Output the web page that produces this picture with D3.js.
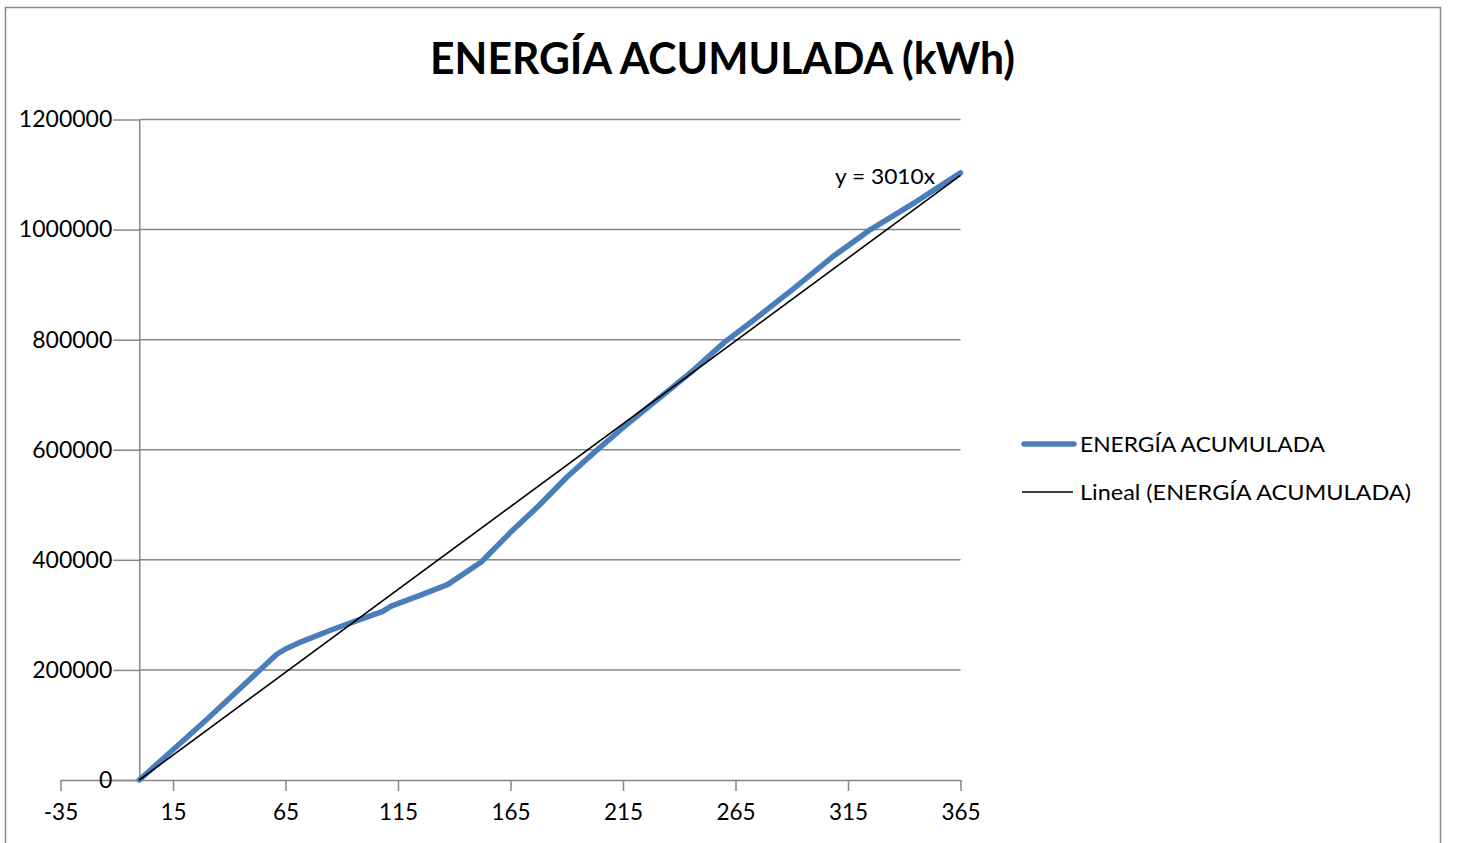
<!DOCTYPE html>
<html>
<head>
<meta charset="utf-8">
<script src="https://cdn.jsdelivr.net/npm/d3@7"></script>
<style>
  html, body { margin: 0; padding: 0; background: #fff; }
  svg { display: block; }
  text { font-family: Lato, "Open Sans", sans-serif; fill: #000; }
</style>
</head>
<body>
<svg id="chart" width="1459" height="843"></svg>
<script>
// ---- data ----
const days = [0, 15, 30, 45, 61, 65, 72, 85, 97, 108, 112, 125, 137, 152, 165, 177, 190, 203, 215, 230, 245, 260, 272, 290, 308, 325, 345, 365];
const energy = [0, 55000, 110000, 167000, 228000, 238000, 251000, 272000, 290000, 306000, 316000, 336000, 355000, 396000, 450000, 496000, 550000, 598000, 640000, 690000, 740000, 795000, 832000, 890000, 950000, 1000000, 1050000, 1103000];
const xTicks = [-35, 15, 65, 115, 165, 215, 265, 315, 365];
const yTicks = [0, 200000, 400000, 600000, 800000, 1000000, 1200000];
const trendSlope = [3010];
const trendRange = [0, 365];
const titleText = "ENERGÍA ACUMULADA (kWh)";
const seriesName = "ENERGÍA ACUMULADA";
const trendName = "Lineal (ENERGÍA ACUMULADA)";
const equationText = "y = 3010x";

const svg = d3.select("#chart");

// chart border
svg.append("rect")
  .attr("x", 5.5).attr("y", 7.5)
  .attr("width", 1435).attr("height", 900)
  .attr("fill", "none").attr("stroke", "#8c8c8c").attr("stroke-width", 1.5);

const x = d3.scaleLinear().domain([-35, 365]).range([60.5, 960.5]);
const y = d3.scaleLinear().domain([0, 1200000]).range([780, 119.5]);
const gridColor = "#868686";

// gridlines
svg.append("g").selectAll("line")
  .data(yTicks.filter(d => d !== 0))
  .join("line")
  .attr("x1", x(0)).attr("x2", x(365))
  .attr("y1", d => y(d)).attr("y2", d => y(d))
  .attr("stroke", gridColor).attr("stroke-width", 1.5);

// x axis
const xAxis = svg.append("g")
  .attr("transform", `translate(0,${y(0)})`)
  .call(d3.axisBottom(x).tickValues(xTicks).tickSize(11).tickSizeOuter(0).tickPadding(13).tickFormat(d3.format("d")));
xAxis.select(".domain").attr("stroke", gridColor).attr("stroke-width", 1.5);
xAxis.selectAll(".tick line").attr("stroke", gridColor).attr("stroke-width", 1.5);
xAxis.selectAll("text").attr("font-size", 22.5).attr("font-family", "Lato, sans-serif").attr("fill", "#000")
  .text(d => String(d).replace("-", "-"));

// y axis
const yAxis = svg.append("g")
  .attr("transform", `translate(${x(0)},0)`)
  .call(d3.axisLeft(y).tickValues(yTicks).tickSize(26).tickSizeOuter(0).tickPadding(1).tickFormat(d3.format("d")));
yAxis.select(".domain").attr("stroke", gridColor).attr("stroke-width", 1.5);
yAxis.selectAll(".tick line").attr("stroke", gridColor).attr("stroke-width", 1.5);
yAxis.selectAll("text").attr("font-size", 23).attr("font-family", "Lato, sans-serif").attr("fill", "#000");

// data line
const pts = days.map((d, i) => [d, energy[i]]);
svg.append("path")
  .datum(pts)
  .attr("fill", "none")
  .attr("stroke", "#4A7EBB")
  .attr("stroke-width", 5.5)
  .attr("stroke-linejoin", "round")
  .attr("stroke-linecap", "round")
  .attr("d", d3.line().x(d => x(d[0])).y(d => y(d[1])));

// trend line
const trendPts = trendRange.map(d => [d, trendSlope[0] * d]);
svg.append("path")
  .datum(trendPts)
  .attr("fill", "none")
  .attr("stroke", "#000")
  .attr("stroke-width", 1.6)
  .attr("d", d3.line().x(d => x(d[0])).y(d => y(d[1])));

// equation label
svg.append("text")
  .attr("x", 835).attr("y", 184)
  .attr("font-size", 21.5)
  .attr("textLength", 100).attr("lengthAdjust", "spacingAndGlyphs")
  .text(equationText);

// title
svg.append("text")
  .attr("x", 430).attr("y", 74)
  .attr("font-size", 44).attr("font-weight", "bold")
  .attr("textLength", 585).attr("lengthAdjust", "spacingAndGlyphs")
  .text(titleText);

// legend
const legend = svg.append("g");
legend.append("line")
  .attr("x1", 1024).attr("x2", 1074).attr("y1", 444).attr("y2", 444)
  .attr("stroke", "#4A7EBB").attr("stroke-width", 5.5).attr("stroke-linecap", "round");
legend.append("text")
  .attr("x", 1080).attr("y", 451.5).attr("font-size", 21.5)
  .attr("textLength", 245).attr("lengthAdjust", "spacingAndGlyphs")
  .text(seriesName);
legend.append("line")
  .attr("x1", 1022).attr("x2", 1073).attr("y1", 492).attr("y2", 492)
  .attr("stroke", "#000").attr("stroke-width", 1.6);
legend.append("text")
  .attr("x", 1080).attr("y", 499.5).attr("font-size", 21.5)
  .attr("textLength", 331).attr("lengthAdjust", "spacingAndGlyphs")
  .text(trendName);
</script>
</body>
</html>
